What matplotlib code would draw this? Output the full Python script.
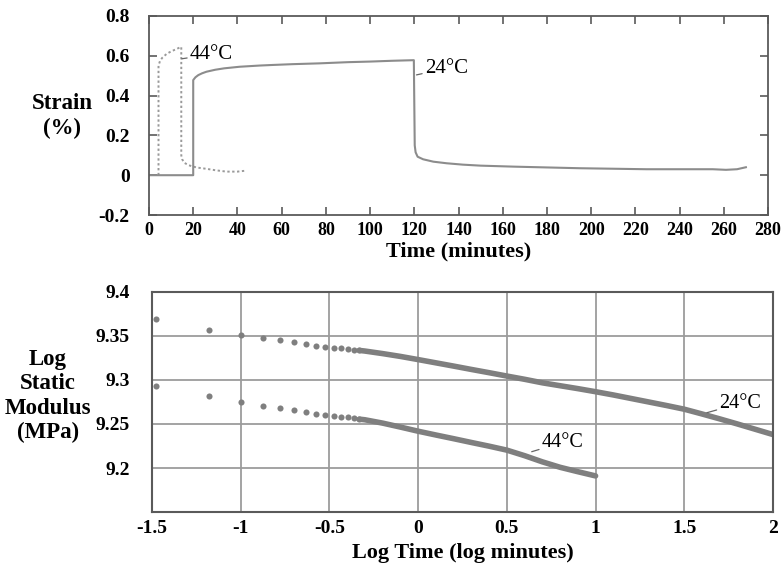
import numpy as np
import matplotlib
matplotlib.use("Agg")
import matplotlib.pyplot as plt

# ---- Creep strain vs time (minutes) ----
t_24 = [0, 20.0, 20.0, 21, 22.3, 24, 26, 30, 34, 41, 50, 56, 65, 77, 90, 100, 110, 119.8,
        120.2, 120.6, 121.5, 124, 128.6, 134.6, 142, 150, 165, 180, 195, 225, 255, 261, 266, 270]
strain_24 = [0, 0, 0.478, 0.492, 0.503, 0.512, 0.520, 0.530, 0.537, 0.545, 0.551, 0.554, 0.558,
             0.562, 0.568, 0.571, 0.575, 0.578,
             0.15, 0.115, 0.093, 0.080, 0.068, 0.060, 0.053, 0.048, 0.043, 0.039, 0.035, 0.030,
             0.030, 0.027, 0.030, 0.040]

t_44 = [4.3, 4.3, 5, 6, 8, 10, 12, 14, 14.6, 14.6, 15, 16, 18, 20, 22, 26, 30, 35, 40, 44]
strain_44 = [0, 0.55, 0.575, 0.59, 0.61, 0.622, 0.632, 0.642, 0.645,
             0.10, 0.08, 0.062, 0.05, 0.043, 0.038, 0.032, 0.025, 0.018, 0.018, 0.023]

# ---- Log static modulus vs log time ----
# early (sparse) readings, drawn as separate dots
logt_sparse = [-1.477, -1.176, -1.0, -0.875, -0.778, -0.699, -0.632, -0.574, -0.523,
               -0.477, -0.436, -0.398, -0.364, -0.331]
logE_24_sparse = [9.369, 9.357, 9.351, 9.348, 9.345, 9.343, 9.341, 9.339, 9.3378,
                  9.3368, 9.3360, 9.3352, 9.3344, 9.3336]
logE_44_sparse = [9.293, 9.2815, 9.275, 9.271, 9.2683, 9.2656, 9.2636, 9.2617, 9.2600,
                  9.2590, 9.2582, 9.2574, 9.2565, 9.2555]

# later readings are so closely spaced that they merge into a band
logt_24_dense = [-0.331, -0.3, -0.2, -0.1, 0.0, 0.1, 0.2, 0.3, 0.4, 0.5, 0.6, 0.7, 0.8, 0.9,
                 1.0, 1.1, 1.2, 1.3, 1.4, 1.5, 1.6, 1.7, 1.8, 1.9, 2.0]
logE_24_dense = [9.3336, 9.3329, 9.3300, 9.3268, 9.3232, 9.3195, 9.3158, 9.3120, 9.3083,
                 9.3045, 9.3008, 9.2968, 9.2935, 9.2902, 9.2867, 9.2830, 9.2790, 9.2750,
                 9.2710, 9.2668, 9.2614, 9.2558, 9.2500, 9.2440, 9.2380]
logt_44_dense = [-0.331, -0.3, -0.2, -0.1, 0.0, 0.1, 0.2, 0.3, 0.4, 0.5, 0.6, 0.7, 0.8, 0.9, 1.0]
logE_44_dense = [9.2555, 9.2548, 9.2510, 9.2465, 9.2418, 9.2375, 9.2333, 9.2290, 9.2248,
                 9.2203, 9.2140, 9.2070, 9.2008, 9.1958, 9.1910]

strain_xticks = list(range(0, 281, 20))
strain_yticks = [-0.2, 0, 0.2, 0.4, 0.6, 0.8]
strain_ylabels = ["-0.2", "0", "0.2", "0.4", "0.6", "0.8"]
mod_xticks = [-1.5, -1, -0.5, 0, 0.5, 1, 1.5, 2]
mod_xlabels = ["-1.5", "-1", "-0.5", "0", "0.5", "1", "1.5", "2"]
mod_yticks = [9.2, 9.25, 9.3, 9.35, 9.4]
mod_ylabels = ["9.2", "9.25", "9.3", "9.35", "9.4"]

serif = ["Liberation Serif", "DejaVu Serif"]
plt.rcParams["font.family"] = serif

W, H = 781, 568
fig = plt.figure(figsize=(W / 100, H / 100), dpi=100)

def box(l, t, r, b):
    return [l / W, 1 - b / H, (r - l) / W, (b - t) / H]

spine_c = "#5a5a5a"
line_c = "#8c8c8c"
tick_fs = 14
lab_fs = 16
ann_fs = 15

# ---------------- top panel ----------------
ax1 = fig.add_axes(box(149, 16, 768, 215))
ax1.plot(t_44, strain_44, color="#9a9a9a", lw=1.4, ls=(0, (1.2, 1.3)))
ax1.plot(t_24, strain_24, color=line_c, lw=1.5)
ax1.set_xlim(0, 280)
ax1.set_ylim(-0.2, 0.8)
ax1.set_xticks(strain_xticks)
ax1.set_yticks(strain_yticks)
ax1.set_yticklabels(strain_ylabels)
ax1.tick_params(direction="in", length=6, width=1.2, color=spine_c,
                top=True, right=True, labelsize=tick_fs)
ax1.tick_params(axis="x", pad=5, labelsize=13)
ax1.tick_params(axis="y", pad=14)
for lab in ax1.get_xticklabels() + ax1.get_yticklabels():
    lab.set_fontweight("bold")
for s in ax1.spines.values():
    s.set_color(spine_c)
    s.set_linewidth(1.3)
ax1.set_xlabel("Time (minutes)", fontsize=lab_fs, fontweight="bold", labelpad=2)

ax1.annotate("44°C", xy=(14.8, 0.585), xytext=(18.5, 0.607), fontsize=ann_fs,
             va="center", ha="left",
             arrowprops=dict(arrowstyle="-", color="#666666", lw=0.9,
                             shrinkA=0, shrinkB=0))
ax1.annotate("24°C", xy=(121, 0.504), xytext=(124.8, 0.537), fontsize=ann_fs,
             va="center", ha="left",
             arrowprops=dict(arrowstyle="-", color="#666666", lw=0.9,
                             shrinkA=0, shrinkB=0))

fig.text(62 / W, 1 - 116 / H, "Strain\n(%)", ha="center", va="center",
         fontsize=16.5, fontweight="bold", linespacing=1.25)

# ---------------- bottom panel ----------------
ax2 = fig.add_axes(box(152, 292, 773, 512))
dot_c = "#7f7f7f"
ax2.plot(logt_sparse, logE_24_sparse, ls="none", marker="o", ms=4.4, color=dot_c, mec="none")
ax2.plot(logt_sparse, logE_44_sparse, ls="none", marker="o", ms=4.4, color=dot_c, mec="none")
ax2.plot(logt_24_dense, logE_24_dense, color=dot_c, lw=4.0, solid_capstyle="round")
ax2.plot(logt_44_dense, logE_44_dense, color=dot_c, lw=4.0, solid_capstyle="round")
ax2.set_xlim(-1.5, 2)
ax2.set_ylim(9.15, 9.4)
ax2.set_xticks(mod_xticks)
ax2.set_xticklabels(mod_xlabels)
ax2.set_yticks(mod_yticks)
ax2.set_yticklabels(mod_ylabels)
ax2.grid(True, color="#9c9c9c", lw=1.3)
ax2.set_axisbelow(True)
ax2.tick_params(length=0, labelsize=tick_fs)
ax2.tick_params(axis="x", pad=6)
ax2.tick_params(axis="y", pad=16)
for lab in ax2.get_xticklabels() + ax2.get_yticklabels():
    lab.set_fontweight("bold")
for s in ax2.spines.values():
    s.set_color(spine_c)
    s.set_linewidth(1.5)
ax2.set_xlabel("Log Time (log minutes)", fontsize=lab_fs, fontweight="bold", labelpad=4)

ax2.annotate("44°C", xy=(0.64, 9.2185), xytext=(0.697, 9.2292), fontsize=14.5,
             va="center", ha="left",
             arrowprops=dict(arrowstyle="-", color="#666666", lw=0.9,
                             shrinkA=0, shrinkB=0))
ax2.annotate("24°C", xy=(1.627, 9.2628), xytext=(1.698, 9.2735), fontsize=14.5,
             va="center", ha="left",
             arrowprops=dict(arrowstyle="-", color="#666666", lw=0.9,
                             shrinkA=0, shrinkB=0))

fig.text(48 / W, 1 - 396 / H, "Log\nStatic\nModulus\n(MPa)", ha="center", va="center",
         fontsize=16.5, fontweight="bold", linespacing=1.2)

fig.savefig("out.png", dpi=100)
